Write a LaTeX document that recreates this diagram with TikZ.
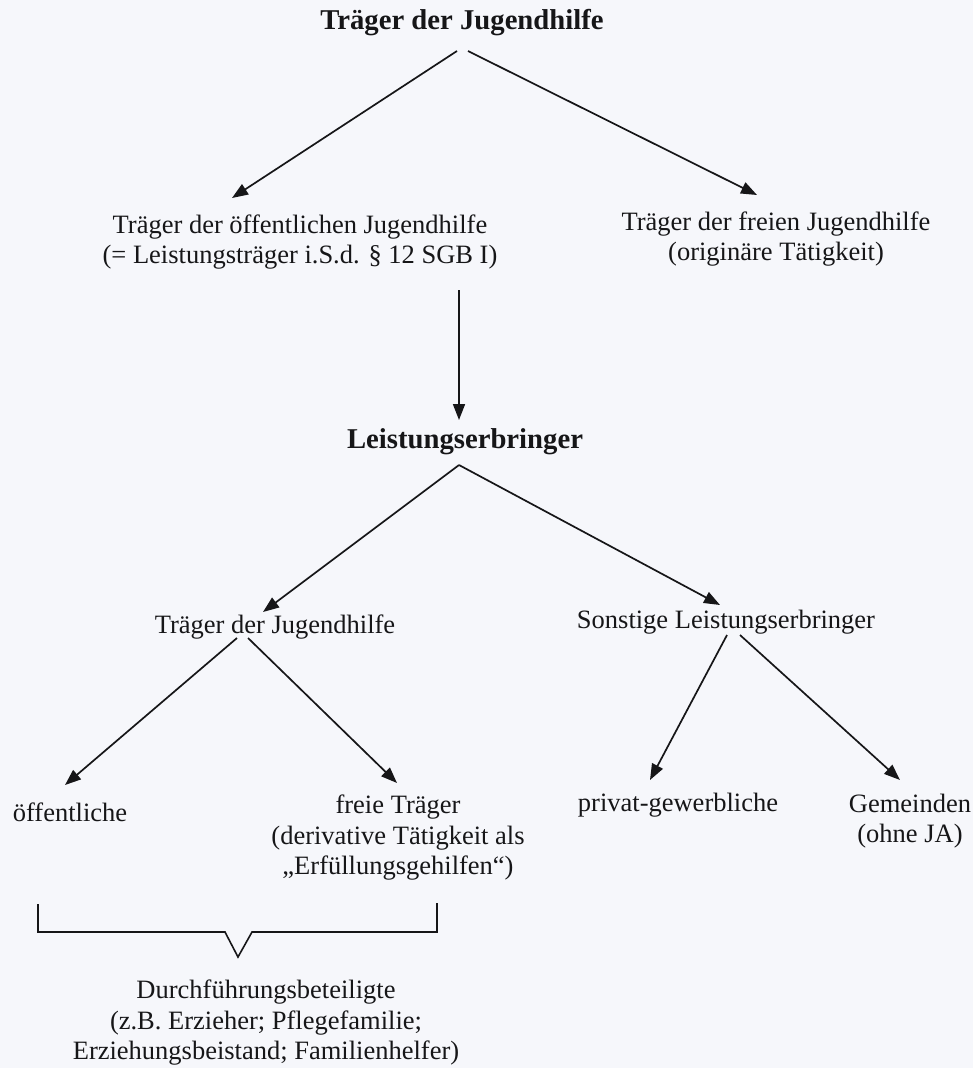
\documentclass[tikz,border=0pt]{standalone}
\usepackage{fontspec}
\setmainfont{Liberation Serif}
\usetikzlibrary{arrows.meta,calc}
\definecolor{paper}{RGB}{246,247,251}
\definecolor{ink}{RGB}{22,22,24}
\begin{document}
\begin{tikzpicture}[x=1pt,y=-1pt,
  txt/.style={inner sep=0pt,text=ink,align=center,font=\fontsize{26.5}{30.5}\selectfont},
  head/.style={inner sep=0pt,text=ink,align=center,font=\fontsize{28.7}{33}\selectfont\bfseries},
  arr/.style={draw=ink,line width=1.7pt,-{Triangle[length=16pt,width=12pt]}},
  brace/.style={draw=ink,line width=1.6pt,line join=miter}]
  % page
  \fill[paper] (0,0) rectangle (973,1068);
  \useasboundingbox (0,0) rectangle (973,1068);

  % top level
  \node[head] (top) at (462,23) {Träger der Jugendhilfe};
  \node[txt] (oeff) at (300,242) {Träger der öffentlichen Jugendhilfe\\(= Leistungsträger i.S.d. § 12 SGB I)};
  \node[txt] (frei) at (776,239) {Träger der freien Jugendhilfe\\(originäre Tätigkeit)};

  % providers
  \node[head] (leist) at (465,442) {Leistungserbringer};
  \node[txt] (tjh) at (275,627) {Träger der Jugendhilfe};
  \node[txt] (sonst) at (726,622) {Sonstige Leistungserbringer};

  % bottom row
  \node[txt] (oeffentl) at (70,812) {öffentliche};
  \node[txt] (freiT) at (398,838) {freie Träger\\(derivative Tätigkeit als\\„Erfüllungsgehilfen“)};
  \node[txt] (priv) at (678,805) {privat-gewerbliche};
  \node[txt] (gem) at (910,821) {Gemeinden\\(ohne JA)};
  \node[txt] (durch) at (266,1023) {Durchführungsbeteiligte\\(z.B. Erzieher; Pflegefamilie;\\Erziehungsbeistand; Familienhelfer)};

  % connectors
  \draw[arr] ($(top)+(-5,28)$) -- ($(oeff)+(-68,-44)$);
  \draw[arr] ($(top)+(6,28)$) -- ($(frei)+(-19,-44)$);
  \draw[arr] ($(oeff)+(159,48)$) -- ($(leist)+(-6,-22)$);
  \draw[arr] ($(leist)+(-6,23)$) -- ($(tjh)+(-12,-15)$);
  \draw[arr] ($(leist)+(-6,23)$) -- ($(sonst)+(-6,-17)$);
  \draw[arr] ($(tjh)+(-38,11)$) -- ($(oeffentl)+(-5,-27)$);
  \draw[arr] ($(tjh)+(-27,11)$) -- ($(freiT)+(-1,-55)$);
  \draw[arr] ($(sonst)+(1,13)$) -- ($(priv)+(-28,-25)$);
  \draw[arr] ($(sonst)+(14,13)$) -- ($(gem)+(-10,-41)$);

  % bracket grouping the two kinds of Träger
  \draw[brace] (38,904) -- (38,932) -- (225,932) -- (238,957) -- (252,932) -- (437,932) -- (437,903);
\end{tikzpicture}
\end{document}
